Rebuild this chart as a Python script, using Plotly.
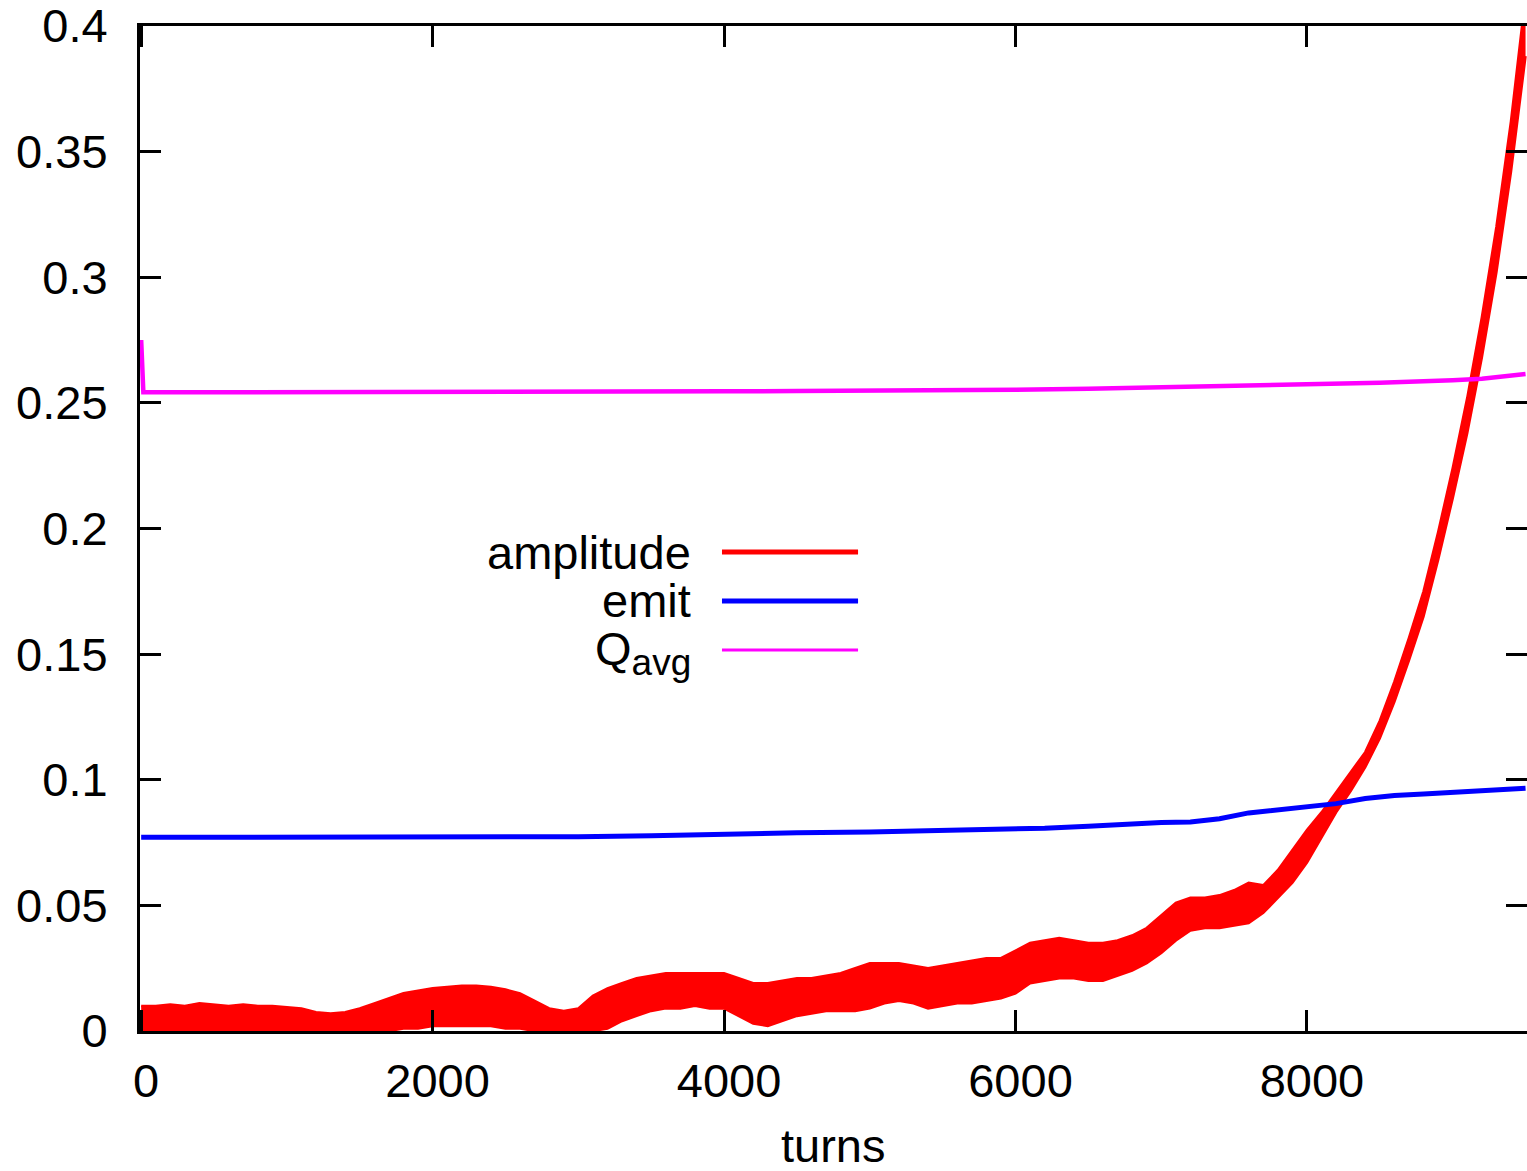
import plotly.graph_objects as go

# ---------------- data ----------------
amp_turns = list(range(0, 9501, 100))
amp_hi = [
    0.010, 0.010, 0.0105, 0.010, 0.011, 0.0105, 0.010, 0.0105, 0.010, 0.010,      # 0-900
    0.0095, 0.009, 0.0075, 0.007, 0.0075, 0.009, 0.011, 0.013, 0.015, 0.016,     # 1000-1900
    0.017, 0.0175, 0.018, 0.018, 0.0175, 0.0165, 0.015, 0.012, 0.009, 0.008,     # 2000-2900
    0.009, 0.014, 0.017, 0.019, 0.021, 0.022, 0.023, 0.023, 0.023, 0.023,        # 3000-3900
    0.023, 0.021, 0.019, 0.019, 0.020, 0.021, 0.021, 0.022, 0.023, 0.025,        # 4000-4900
    0.027, 0.027, 0.027, 0.026, 0.025, 0.026, 0.027, 0.028, 0.029, 0.029,        # 5000-5900
    0.032, 0.035, 0.036, 0.037, 0.036, 0.035, 0.035, 0.036, 0.038, 0.041,        # 6000-6900
    0.046, 0.051, 0.053, 0.053, 0.054, 0.056, 0.059, 0.058, 0.064, 0.072,        # 7000-7900
    0.080, 0.087, 0.095, 0.1025, 0.111, 0.1235, 0.139, 0.1565, 0.175, 0.1985,    # 8000-8900
    0.224, 0.252, 0.284, 0.320, 0.362, 0.412,                                    # 9000-9500
]
amp_lo = [
    0.0, 0.0, 0.0, 0.0, 0.0, 0.0, 0.0, 0.0, 0.0, 0.0,                            # 0-900
    0.0, 0.0, 0.0, 0.0, 0.0, 0.0, 0.0, 0.0, 0.001, 0.001,                        # 1000-1900
    0.002, 0.002, 0.002, 0.002, 0.002, 0.001, 0.001, 0.0, 0.0, 0.0,              # 2000-2900
    0.0, 0.0, 0.001, 0.004, 0.006, 0.008, 0.009, 0.009, 0.010, 0.009,            # 3000-3900
    0.009, 0.006, 0.003, 0.002, 0.004, 0.006, 0.007, 0.008, 0.008, 0.008,        # 4000-4900
    0.009, 0.011, 0.012, 0.011, 0.009, 0.010, 0.011, 0.011, 0.012, 0.013,        # 5000-5900
    0.015, 0.019, 0.020, 0.021, 0.021, 0.020, 0.020, 0.022, 0.024, 0.027,        # 6000-6900
    0.031, 0.036, 0.040, 0.041, 0.041, 0.042, 0.043, 0.047, 0.053, 0.059,        # 7000-7900
    0.067, 0.077, 0.087, 0.0955, 0.105, 0.1165, 0.131, 0.1475, 0.165, 0.1875,    # 8000-8900
    0.212, 0.238, 0.268, 0.302, 0.342, 0.388,                                    # 9000-9500
]

emit_turns = [0, 1000, 2000, 3000, 3500, 4000, 4500, 5000, 5500, 6000, 6200, 6500,
              6800, 7000, 7200, 7400, 7600, 7800, 8000, 8200, 8400, 8600, 8800,
              9000, 9200, 9500]
emit_vals = [0.0771, 0.0771, 0.0772, 0.0773, 0.0777, 0.0785, 0.0789, 0.0792, 0.0797,
             0.0802, 0.0807, 0.0815, 0.0825, 0.0830, 0.0832, 0.0845, 0.0868, 0.0880,
             0.0890, 0.0905, 0.0925, 0.0937, 0.0943, 0.0950, 0.0957, 0.0966]

q_turns = [0, 15, 500, 1000, 1500, 2000, 2500, 3000, 3500, 4000, 4500, 5000, 5500,
           6000, 6500, 7000, 7500, 8000, 8500, 9000, 9200, 9500]
q_vals = [0.275, 0.2542, 0.2542, 0.2542, 0.2543, 0.2543, 0.2544, 0.2544, 0.2545,
          0.2546, 0.2547, 0.2548, 0.2550, 0.2552, 0.2556, 0.2561, 0.2568, 0.2574,
          0.2580, 0.2590, 0.2596, 0.2615]

x_ticks = [0, 2000, 4000, 6000, 8000]
x_ticktext = ["0", "2000", "4000", "6000", "8000"]
y_ticks = [0, 0.05, 0.1, 0.15, 0.2, 0.25, 0.3, 0.35, 0.4]
y_ticktext = ["0", "0.05", "0.1", "0.15", "0.2", "0.25", "0.3", "0.35", "0.4"]

x_title = "turns"
legend_names = ["amplitude", "emit",
                "Q<sub><span style='font-size:37px'>avg</span></sub>"]

# ---------------- styles ----------------
RED = "#ff0000"
BLUE = "#0000ff"
MAGENTA = "#ff00ff"
FONT = "Liberation Sans, Arial, sans-serif"
FS = 47

fig = go.Figure()

# amplitude drawn as its oscillation envelope (low / high)
fig.add_trace(go.Scatter(x=amp_turns, y=amp_lo, mode="lines",
                         line=dict(color=RED, width=2.5), showlegend=False,
                         hoverinfo="skip"))
fig.add_trace(go.Scatter(x=amp_turns, y=amp_hi, mode="lines", fill="tonexty",
                         fillcolor=RED, line=dict(color=RED, width=2.5),
                         showlegend=False, name="amplitude"))
fig.add_trace(go.Scatter(x=emit_turns, y=emit_vals, mode="lines",
                         line=dict(color=BLUE, width=5), showlegend=False,
                         name="emit"))
fig.add_trace(go.Scatter(x=q_turns, y=q_vals, mode="lines",
                         line=dict(color=MAGENTA, width=4.5), showlegend=False,
                         name="Qavg", yaxis="y2"))

axis_common = dict(ticks="inside", ticklen=21, tickwidth=3, tickcolor="black",
                   showgrid=False, zeroline=False, ticklabeloverflow="allow",
                   tickfont=dict(family=FONT, size=FS, color="black"))

fig.update_layout(
    width=1527, height=1171,
    margin=dict(l=140, r=0, t=26, b=140, autoexpand=False),
    paper_bgcolor="white", plot_bgcolor="white",
    showlegend=False,
    xaxis=dict(range=[-8, 9510], tickvals=x_ticks, ticktext=x_ticktext,
               showline=True, linewidth=3, linecolor="black", mirror="ticks",
               ticklabelstandoff=7, ticklabelshift=5, automargin=False,
               **axis_common),
    yaxis=dict(range=[0, 0.4], tickvals=y_ticks, ticktext=y_ticktext,
               showline=True, linewidth=3, linecolor="black", automargin=False,
               ticklabelstandoff=20, **axis_common),
    yaxis2=dict(range=[0, 0.4], overlaying="y", side="right", matches="y",
                tickvals=y_ticks, showticklabels=False, showline=False,
                automargin=False, **axis_common),
)

# x axis title
fig.add_annotation(x=0.5, y=-0.1144, xref="paper", yref="paper", text=x_title,
                   showarrow=False, xanchor="center", yanchor="middle",
                   font=dict(family=FONT, size=FS, color="black"))

# legend in gnuplot style: right-aligned text followed by the line sample
leg_colors = [RED, BLUE, MAGENTA]
leg_widths = [5, 5, 3]
leg_rows = [0.4766, 0.4279, 0.3791]
leg_text_y = [0.4766, 0.4279, 0.3771]
for name, col, w, yr, ty in zip(legend_names, leg_colors, leg_widths,
                                leg_rows, leg_text_y):
    fig.add_annotation(x=0.3987, y=ty, xref="paper", yref="paper", text=name,
                       showarrow=False, xanchor="right", yanchor="middle",
                       font=dict(family=FONT, size=FS, color="black"))
    fig.add_shape(type="line", xref="paper", yref="paper", x0=0.4196, x1=0.5177,
                  y0=yr, y1=yr, line=dict(color=col, width=w))

fig.write_html("out.html")
